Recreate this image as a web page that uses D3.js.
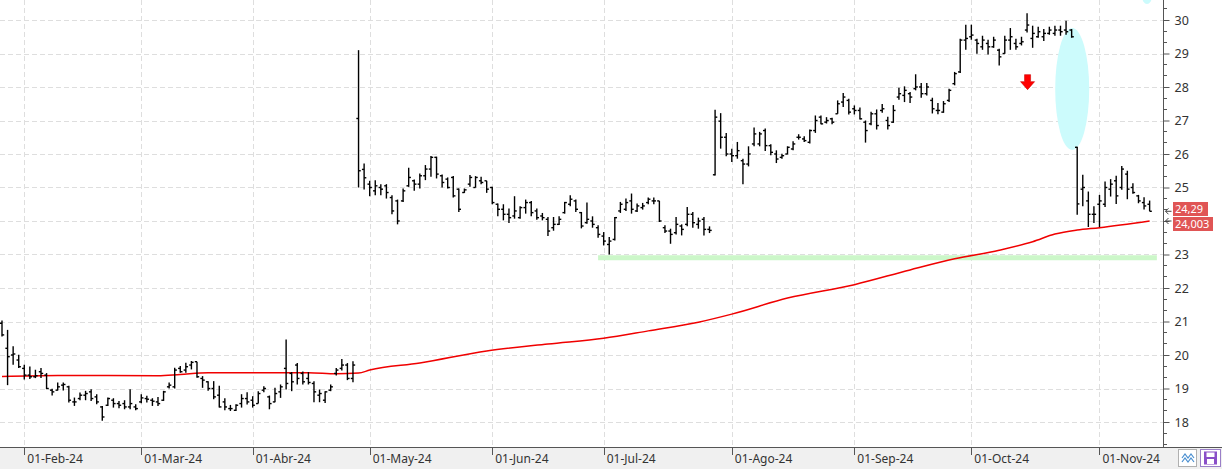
<!DOCTYPE html>
<html>
<head>
<meta charset="utf-8">
<script src="https://cdn.jsdelivr.net/npm/d3@7"></script>
<style>
  html, body { margin: 0; padding: 0; background: #fff; }
  svg { display: block; font-family: "Noto Sans", "Liberation Sans", sans-serif; }
</style>
</head>
<body>
<div id="chart"></div>
<script>
// ---------- DATA ----------
// OHLC bars, one per trading day (index 0 = 26-Jan-24)
const opens = [20.95,20.2,20.0,19.85,19.6,19.4,19.35,19.5,19.4,18.95,18.95,19.1,19.05,18.6,18.7,18.8,18.9,18.75,18.45,18.5,
18.65,18.55,18.55,18.45,18.45,18.6,18.7,18.65,18.6,18.65,19.05,19.05,19.6,19.55,19.7,19.8,19.3,19.2,19.0,18.8,
18.6,18.4,18.35,18.55,18.7,18.65,18.55,18.95,18.75,18.6,18.9,19.6,19.45,19.7,19.45,19.3,19.15,18.8,18.65,18.95,
19.45,19.6,19.7,19.3,27.06,25.54,25.1,24.9,25.0,25.05,24.7,24.6,24.6,25.05,25.2,25.1,25.35,25.55,25.9,25.35,
25.25,25.3,24.95,24.85,25.1,25.0,25.2,25.2,25.0,24.5,24.35,24.2,24.15,24.1,24.4,24.55,24.3,24.15,24.05,23.8,
23.9,24.25,24.5,24.6,24.25,23.95,24.0,23.8,23.55,23.3,23.45,24.3,24.35,24.6,24.3,24.4,24.55,24.6,24.6,23.8,
23.7,23.65,23.85,23.9,24.2,23.9,24.05,23.75,25.38,26.98,26.5,26.0,25.95,25.8,25.7,26.3,26.3,26.7,26.25,26.0,
25.9,26.0,26.15,26.5,26.45,26.35,26.7,27.1,26.95,27.05,27.2,27.55,27.6,27.35,27.3,26.95,26.9,27.2,27.3,27.0,
26.95,27.7,27.75,27.8,27.95,28.0,27.8,27.6,27.3,27.25,27.6,28.1,28.45,29.4,29.5,29.4,29.2,29.3,29.2,29.1,
29.0,29.4,29.3,29.3,29.7,29.45,29.5,29.5,29.6,29.6,29.7,29.7,29.7,26.2,24.95,24.6,24.2,24.5,24.5,24.95,
25.2,25.0,25.4,25.0,24.75,24.55,24.5];
const highs = [21.03,20.75,20.26,20.01,19.71,19.66,19.56,19.61,19.46,18.99,19.18,19.18,19.08,18.73,18.88,18.93,18.98,18.83,18.48,18.73,
18.71,18.63,18.65,18.98,18.53,18.83,18.78,18.71,18.75,18.93,19.18,19.62,19.67,19.77,19.82,19.8,19.37,19.22,19.22,19.08,
18.71,18.51,18.53,18.83,18.89,18.77,18.92,19.07,18.79,19.02,19.12,20.46,19.49,19.76,19.51,19.49,19.22,18.97,18.92,19.12,
19.61,19.88,19.76,19.81,29.1,25.72,25.2,25.22,25.1,25.1,24.77,24.64,24.97,25.59,25.24,25.42,25.67,25.94,25.92,25.39,
25.3,25.34,24.97,24.97,25.37,25.34,25.32,25.2,25.02,24.52,24.5,24.37,24.74,24.44,24.64,24.6,24.37,24.24,24.12,24.12,
24.14,24.57,24.77,24.64,24.27,24.55,24.14,23.87,23.67,23.52,24.12,24.57,24.67,24.82,24.52,24.54,24.7,24.7,24.6,23.87,
23.77,24.12,23.9,24.42,24.27,24.1,24.12,23.84,27.32,27.22,26.63,26.16,26.36,25.86,26.23,26.79,26.66,26.76,26.29,26.11,
26.01,26.23,26.38,26.59,26.53,26.73,27.15,27.15,27.1,27.08,27.6,27.82,27.65,27.45,27.39,27.0,27.26,27.33,27.49,27.11,
27.46,27.98,28.02,27.85,28.38,28.12,28.12,27.68,27.52,27.58,27.95,28.45,29.44,29.86,29.86,29.44,29.53,29.41,29.5,29.14,
29.53,29.76,29.44,29.5,30.2,29.83,29.8,29.73,29.8,29.83,29.83,29.98,29.73,26.22,25.38,24.88,24.44,24.78,25.18,25.25,
25.35,25.64,25.5,25.13,24.78,24.71,24.61];
const lows = [20.55,19.1,19.71,19.61,19.27,19.28,19.31,19.31,18.98,18.79,18.94,18.94,18.58,18.48,18.65,18.65,18.63,18.53,18.04,18.48,
18.43,18.41,18.38,18.38,18.35,18.56,18.58,18.48,18.48,18.63,19.0,19.0,19.47,19.47,19.57,19.32,19.02,18.93,18.68,18.43,
18.35,18.33,18.33,18.43,18.52,18.43,18.55,18.89,18.38,18.59,18.72,18.97,18.92,19.12,19.12,19.12,18.59,18.59,18.57,18.92,
19.39,19.54,19.25,19.19,25.0,24.94,24.74,24.77,24.77,24.67,24.2,23.9,24.57,25.02,24.9,24.97,25.22,25.32,25.27,25.0,
24.97,24.7,24.27,24.84,25.02,25.0,25.1,24.84,24.5,24.14,24.02,23.94,24.07,24.07,24.22,24.14,24.04,24.02,23.55,23.71,
23.88,24.22,24.44,24.27,23.78,23.92,23.8,23.5,23.27,23.0,23.42,24.24,24.3,24.22,24.27,24.34,24.5,24.5,23.97,23.64,
23.32,23.6,23.57,23.84,23.8,23.77,23.57,23.64,25.36,26.16,25.93,25.76,25.86,25.1,25.63,26.23,26.23,26.09,25.96,25.73,
25.86,25.99,26.11,26.43,26.36,26.31,26.63,26.89,26.91,26.89,27.2,27.4,27.18,27.18,27.03,26.34,26.86,26.73,27.23,26.73,
26.93,27.62,27.55,27.52,27.9,27.68,27.75,27.21,27.19,27.23,27.55,28.05,28.42,29.11,29.41,28.99,29.11,28.97,29.17,28.64,
28.99,29.11,29.11,29.24,29.63,29.17,29.47,29.37,29.56,29.53,29.53,29.56,29.47,24.19,24.44,23.82,23.94,23.82,24.42,24.73,
24.51,24.93,24.65,24.81,24.53,24.34,24.29];
const closes = [20.6,19.95,20.03,19.65,19.4,19.35,19.38,19.45,19.0,18.9,19.05,19.12,18.65,18.6,18.8,18.85,18.7,18.6,18.15,18.7,
18.55,18.5,18.45,18.55,18.4,18.72,18.68,18.62,18.55,18.9,19.1,19.55,19.5,19.65,19.78,19.35,19.25,19.0,18.75,18.45,
18.45,18.4,18.5,18.7,18.6,18.5,18.85,19.0,18.55,18.85,19.05,19.15,19.2,19.3,19.2,19.18,18.9,18.85,18.9,19.05,
19.55,19.7,19.3,19.7,25.5,25.29,25.0,25.05,24.95,24.85,24.3,24.0,24.9,25.3,25.1,25.35,25.55,25.9,25.4,25.15,
25.0,24.75,24.35,24.93,25.3,25.3,25.15,24.95,24.55,24.35,24.2,24.1,24.3,24.4,24.55,24.25,24.1,24.1,23.7,23.9,
24.05,24.55,24.65,24.35,23.85,24.05,23.9,23.6,23.4,23.4,24.1,24.5,24.55,24.35,24.45,24.45,24.65,24.6,24.0,23.7,
23.6,23.9,23.75,24.2,23.95,24.0,23.75,23.72,27.1,26.5,26.0,25.95,26.1,25.7,26.0,26.6,26.6,26.25,26.05,25.85,
25.95,26.2,26.3,26.5,26.4,26.7,27.0,26.9,27.0,26.95,27.5,27.7,27.25,27.3,27.05,26.7,27.2,26.85,27.35,26.85,
27.3,27.8,27.9,27.7,28.0,27.8,28.0,27.35,27.3,27.5,27.9,28.4,29.4,29.45,29.55,29.3,29.4,29.2,29.4,28.9,
29.4,29.5,29.2,29.35,29.85,29.6,29.65,29.6,29.7,29.7,29.65,29.65,29.5,24.51,25.0,24.2,24.2,24.6,25.0,25.1,
24.75,25.55,24.95,24.85,24.6,24.45,24.29];

// Moving average (red line), read at sample bars
const maIndex  = [0, 10, 28, 32, 37, 55, 60, 64, 66, 75, 87, 98, 108, 116, 125, 131, 141, 153, 163, 171, 179, 185, 189, 193, 197, 206];
const maValues = [19.36, 19.39, 19.38, 19.42, 19.47, 19.47, 19.44, 19.46, 19.55, 19.76, 20.12, 20.33, 20.5, 20.72, 20.98, 21.22, 21.7, 22.1, 22.54, 22.87, 23.13, 23.38, 23.61, 23.73, 23.8, 24.0];

// Horizontal support level (green)
const supportLevel = 22.9;
const supportFrom = 107, supportTo = 207.3;

// Axis ticks
const monthTickIndex = [4, 25, 45, 66, 88, 108, 131, 153, 174, 197];
const monthTickLabels = ["01-Feb-24","01-Mar-24","01-Abr-24","01-May-24","01-Jun-24","01-Jul-24","01-Ago-24","01-Sep-24","01-Oct-24","01-Nov-24"];
const priceTicks = [18,19,20,21,22,23,24,25,26,27,28,29,30];
const hiddenPriceLabels = [24]; // covered by the price tags in the original

// Price tags on the right axis
const lastCloseLabel = "24,29";
const lastMaLabel = "24,003";

// Annotation marks
const arrowAt = {index: 184, price: 28.1};
const ellipseAt = {index: 193, price: 27.94};

// ---------- LAYOUT ----------
const W = 1222, H = 469;
const plotRight = 1163.5, plotBottom = 447;

const svg = d3.select("#chart").append("svg").attr("width", W).attr("height", H);

const x = d3.scaleLinear().domain([0, 206]).range([2, 2 + 206 * 5.571]);
const y = d3.scaleLinear().domain([18, 30]).range([422, 20]);

// background
svg.append("rect").attr("x",0).attr("y",0).attr("width",W).attr("height",H).attr("fill","#fff");
svg.append("rect").attr("x",0).attr("y",plotBottom).attr("width",W).attr("height",H-plotBottom).attr("fill","#f0f0f0");

// grid
const grid = svg.append("g").attr("stroke","#dedede").attr("stroke-dasharray","5,3").attr("stroke-width",1).attr("shape-rendering","crispEdges");
grid.selectAll("line.h").data(priceTicks).join("line")
  .attr("x1",0).attr("x2",plotRight).attr("y1",d=>Math.round(y(d))+0.5).attr("y2",d=>Math.round(y(d))+0.5);
grid.selectAll("line.v").data(monthTickIndex).join("line")
  .attr("y1",0).attr("y2",plotBottom).attr("x1",d=>Math.round(x(d))+0.5).attr("x2",d=>Math.round(x(d))+0.5);

// support level
svg.append("line")
  .attr("x1", x(supportFrom)).attr("x2", x(supportTo))
  .attr("y1", y(supportLevel)).attr("y2", y(supportLevel))
  .attr("stroke","#ccf7c9").attr("stroke-width",5);

// ellipse annotations
svg.append("ellipse").attr("cx", x(ellipseAt.index) - 5).attr("cy", y(ellipseAt.price))
  .attr("rx", 17).attr("ry", 61).attr("fill","#ccfbfc");
svg.append("ellipse").attr("cx", 1147).attr("cy", -4).attr("rx", 5).attr("ry", 8).attr("fill","#ccfbfc");

// moving average
const maPts = maIndex.map((d,i)=>[d, maValues[i]]);
svg.append("path").datum(maPts)
  .attr("d", d3.line().curve(d3.curveMonotoneX).x(d=>x(d[0])).y(d=>y(d[1])))
  .attr("fill","none").attr("stroke","#f00000").attr("stroke-width",1.5);

// OHLC bars
const bars = svg.append("g").attr("stroke","#000").attr("stroke-width",1.4);
const idx = d3.range(opens.length);
bars.selectAll("line.hl").data(idx).join("line")
  .attr("x1",i=>x(i)).attr("x2",i=>x(i)).attr("y1",i=>y(highs[i])).attr("y2",i=>y(lows[i]));
bars.selectAll("line.o").data(idx).join("line")
  .attr("x1",i=>x(i)-2.2).attr("x2",i=>x(i)).attr("y1",i=>y(opens[i])).attr("y2",i=>y(opens[i]));
bars.selectAll("line.c").data(idx).join("line")
  .attr("x1",i=>x(i)).attr("x2",i=>x(i)+2.2).attr("y1",i=>y(closes[i])).attr("y2",i=>y(closes[i]));

// red arrow
const ax = x(arrowAt.index) + 0.5, ay = y(arrowAt.price);
svg.append("path")
  .attr("d", `M${ax-3},${ay-9} H${ax+3} V${ay-2} H${ax+7} L${ax},${ay+6} L${ax-7},${ay-2} H${ax-3} Z`)
  .attr("fill","#ff0000").attr("stroke","#d00000").attr("stroke-width",0.6);

// right axis
const yAxis = d3.axisRight(y).tickValues(priceTicks).tickSize(6).tickPadding(5).tickFormat(d3.format("d"));
const gy = svg.append("g").attr("transform",`translate(${plotRight},0)`).call(yAxis);
gy.select(".domain").remove();
gy.selectAll(".tick line").attr("stroke","#555");
gy.selectAll(".tick text").attr("fill","#333").attr("font-size","12.5px").attr("font-family","'Noto Sans', sans-serif");
gy.selectAll(".tick").filter(d => hiddenPriceLabels.includes(d)).select("text").remove();
const minor = d3.range(17.0 + 1/3, 30.7, 1/3).filter(v => Math.abs(v - Math.round(v)) > 0.01);
svg.append("g").selectAll("line").data(minor).join("line")
  .attr("x1",plotRight).attr("x2",plotRight+3).attr("y1",d=>y(d)).attr("y2",d=>y(d))
  .attr("stroke","#555").attr("shape-rendering","crispEdges");
svg.append("line").attr("x1",plotRight).attr("x2",plotRight).attr("y1",0).attr("y2",plotBottom)
  .attr("stroke","#555").attr("shape-rendering","crispEdges");

// bottom axis
svg.append("line").attr("x1",0).attr("x2",W).attr("y1",plotBottom+0.5).attr("y2",plotBottom+0.5)
  .attr("stroke","#555");
const xt = svg.append("g");
xt.selectAll("line").data(monthTickIndex).join("line")
  .attr("x1",d=>Math.round(x(d))+0.5).attr("x2",d=>Math.round(x(d))+0.5).attr("y1",plotBottom).attr("y2",plotBottom+8)
  .attr("stroke","#555");
xt.selectAll("text").data(monthTickIndex).join("text")
  .attr("x",d=>x(d)+3).attr("y",463).attr("font-size","12px").attr("fill","#333")
  .text((d,i)=>monthTickLabels[i]);

// price tags
const tagG = svg.append("g");
function tag(yTop, h, w, label, textY) {
  tagG.append("rect").attr("x",1173).attr("y",yTop).attr("width",w).attr("height",h).attr("fill","#e05555");
  tagG.append("text").attr("x",1175).attr("y",textY).attr("fill","#fff").attr("font-size","11px").text(label);
}
tag(217, 14, 40, lastMaLabel, 228);
tag(202, 14, 35, lastCloseLabel, 213);
// little arrows
[y(closes[closes.length-1]), y(maValues[maValues.length-1])].forEach(yy=>{
  tagG.append("path").attr("d",`M${plotRight+8},${yy} H${plotRight+2} M${plotRight+5},${yy-3} L${plotRight+2},${yy} L${plotRight+5},${yy+3}`)
    .attr("stroke","#444").attr("fill","none").attr("stroke-width",1);
});

// icon buttons
const b1 = svg.append("g");
b1.append("rect").attr("x",1178.5).attr("y",449.5).attr("width",18).attr("height",17).attr("fill","#fff").attr("stroke","#b0b0b0");
b1.append("path").attr("d","M1182,458 l3,-4 l3,4 l3,-4 l3,4 M1182,462 l3,-4 l3,4 l3,-4 l3,4").attr("stroke","#4a8fd0").attr("fill","none").attr("stroke-width",1.2);
const b2 = svg.append("g");
b2.append("rect").attr("x",1200.5).attr("y",449.5).attr("width",20).attr("height",17).attr("fill","#fff").attr("stroke","#9a7fc8");
b2.append("rect").attr("x",1204).attr("y",451.5).attr("width",13).attr("height",13).attr("fill","#8a4fc8");
b2.append("rect").attr("x",1206.5).attr("y",452.5).attr("width",8).attr("height",4.5).attr("fill","#fff");
b2.append("rect").attr("x",1207).attr("y",459).attr("width",7).attr("height",5).attr("fill","#fff");
</script>
</body>
</html>
